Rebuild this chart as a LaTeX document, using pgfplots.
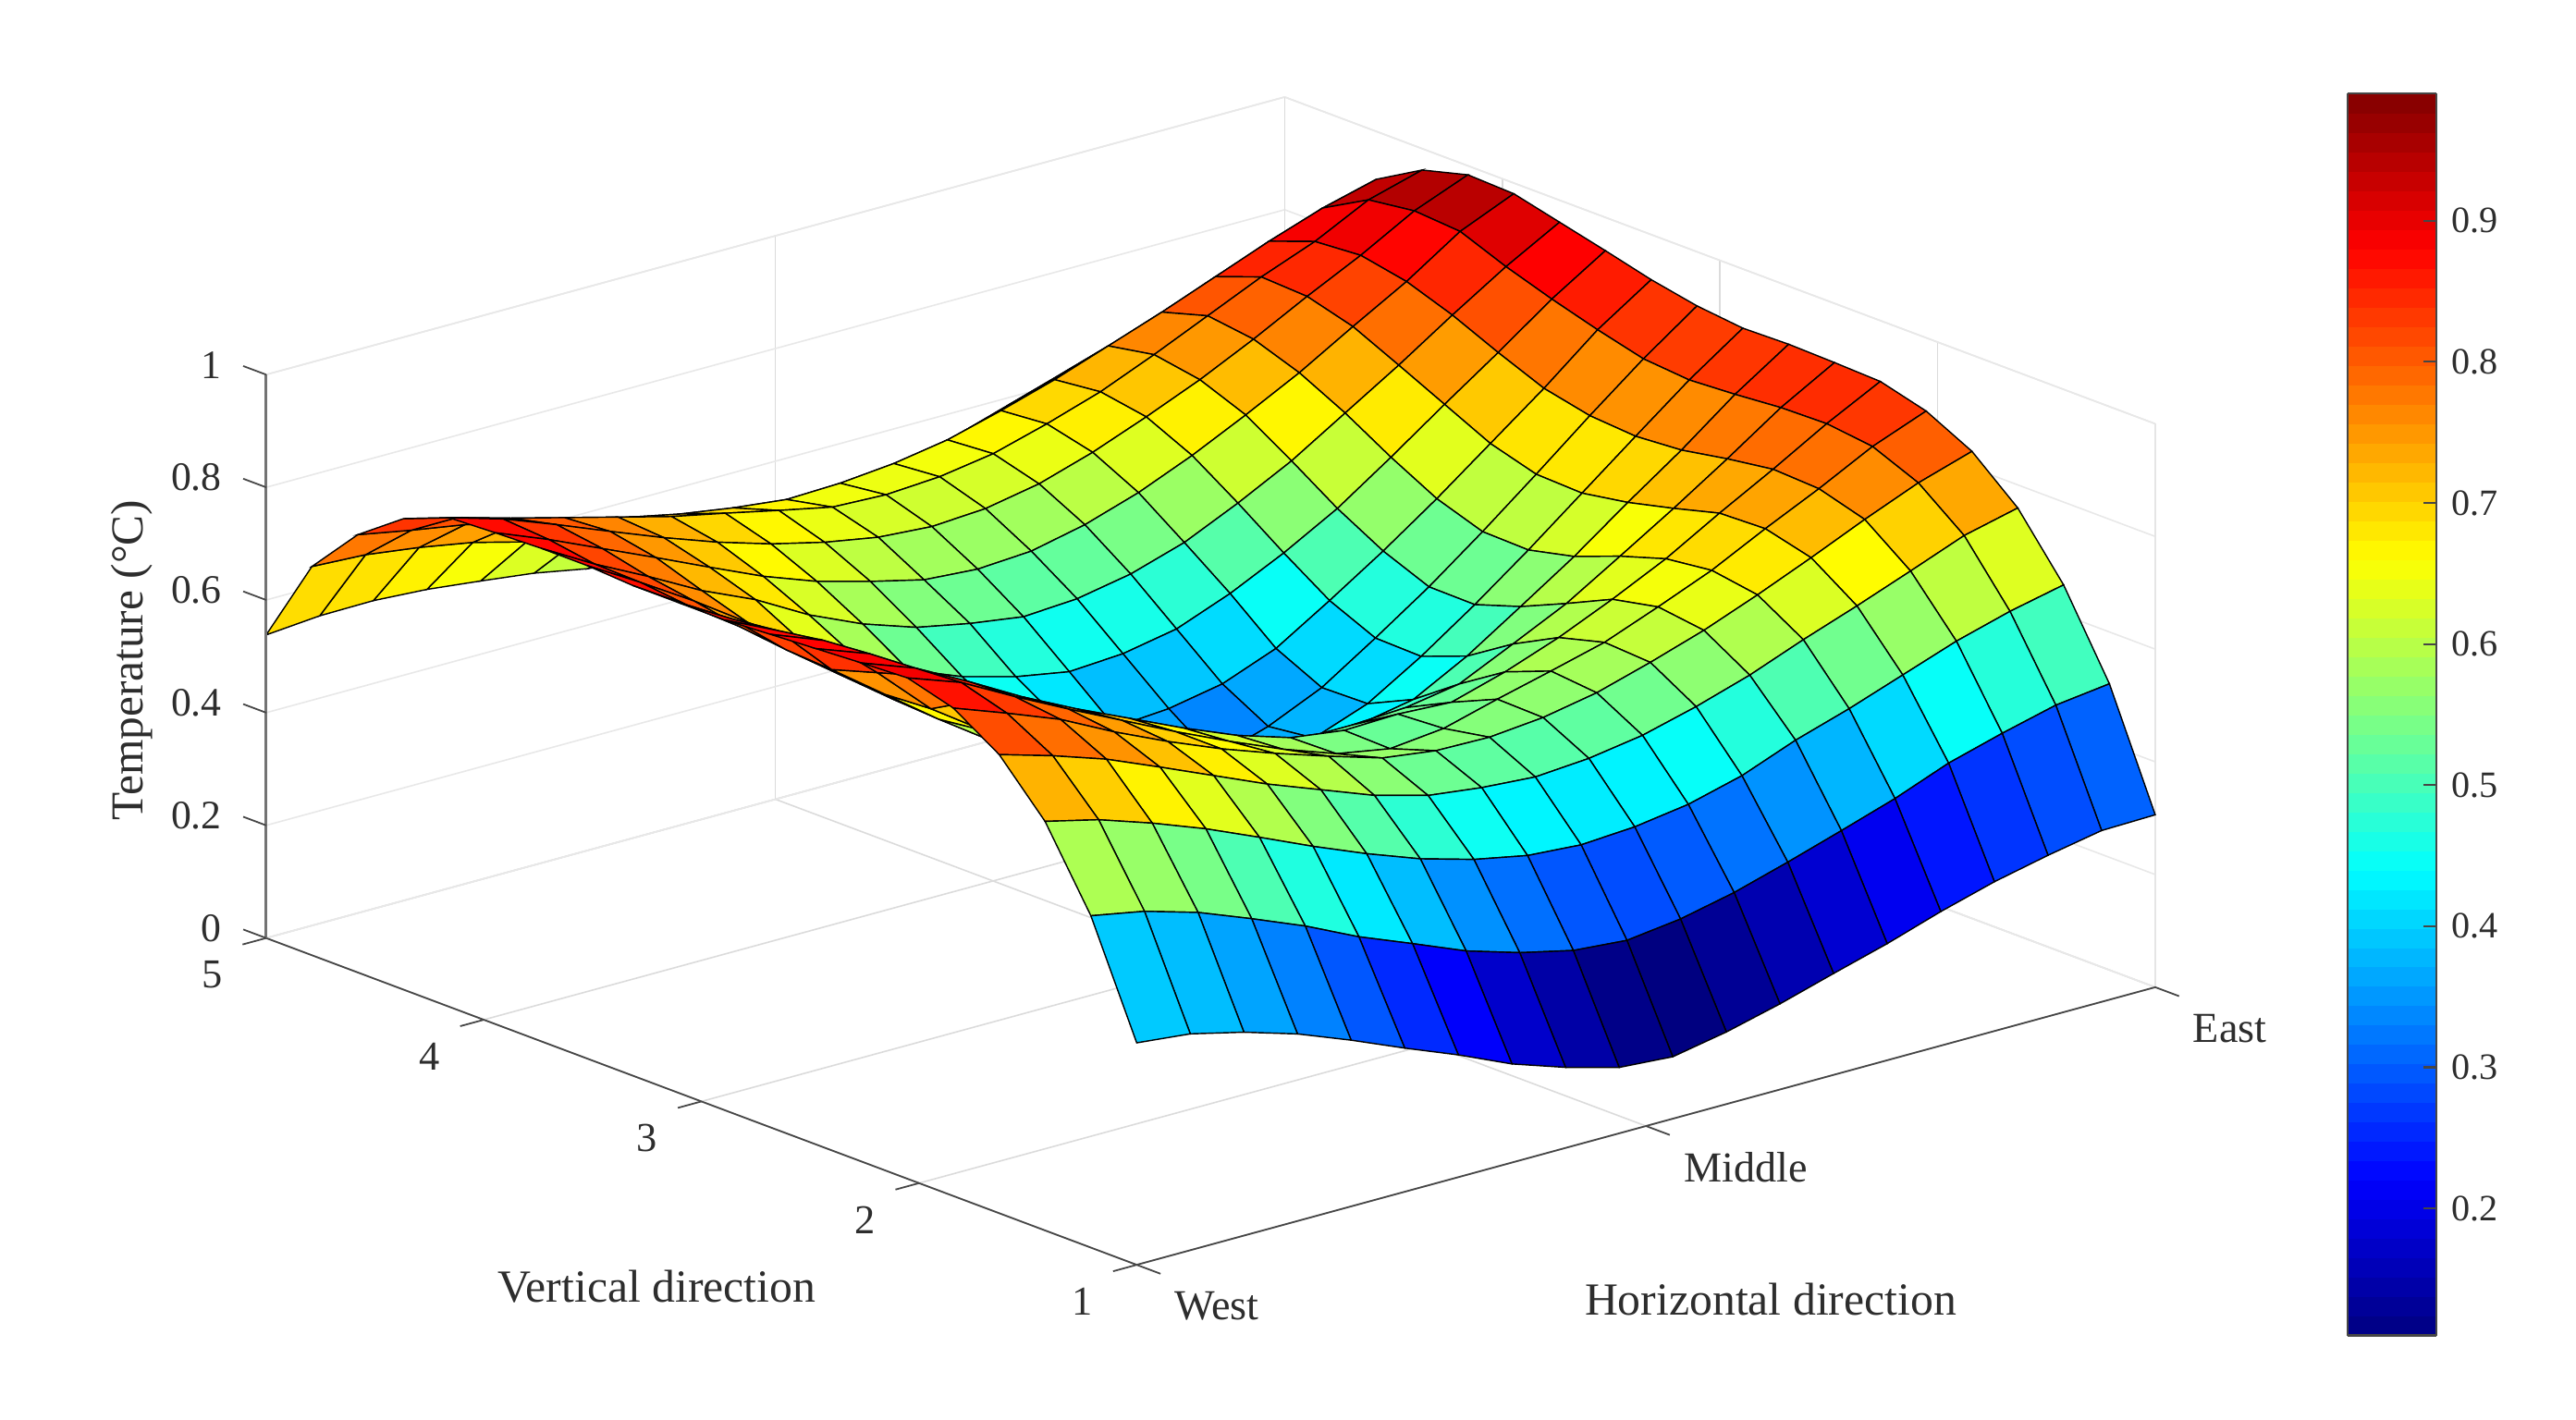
\documentclass[border=0pt]{standalone}
\usepackage{fontspec}
\setmainfont{Liberation Serif}
\usepackage{pgfplots}
\pgfplotsset{compat=1.18}
\definecolor{axgray}{RGB}{70,70,70}
\definecolor{txt}{RGB}{45,45,45}
\pgfplotsset{colormap={matjet}{rgb255=(0,0,128) rgb255=(0,0,255) rgb255=(0,128,255) rgb255=(0,255,255) rgb255=(128,255,128) rgb255=(255,255,0) rgb255=(255,128,0) rgb255=(255,0,0) rgb255=(128,0,0)}}
\begin{document}
\begin{tikzpicture}
\useasboundingbox (-81pt,-47pt) rectangle ++(784pt,432pt);
\begin{axis}[
  x={(16.315pt,4.4475pt)}, y={(-13.945pt,5.235pt)}, z={(0pt,171.5pt)},
  xmin=1, xmax=20, ymin=1, ymax=20, zmin=0, zmax=1,
  clip=false,
  xtick={1,10.5,20}, xticklabels={West,Middle,East},
  ytick={1,5.75,10.5,15.25,20}, yticklabels={1,2,3,4,5},
  ztick={0,0.2,0.4,0.6,0.8,1},
  /pgf/number format/assume math mode=true,
  major tick length=0pt,
  xtick pos=left, ytick pos=left, ztick pos=left,
  xticklabel style={anchor=west,xshift=8pt,yshift=-12.5pt,font=\fontsize{13}{15}\selectfont,text=txt},
  yticklabel style={anchor=center,xshift=-16.5pt,yshift=-11.2pt,font=\fontsize{12.5}{15}\selectfont,text=txt},
  zticklabel style={anchor=east,xshift=-10pt,yshift=3pt,font=\fontsize{12.3}{15}\selectfont,text=txt},
  grid=major, x grid style={black!14,line width=.45pt}, y grid style={black!14,line width=.45pt},
  z grid style={black!9,line width=.45pt},
  axis line style={black!10,line width=.45pt},
  xlabel={Horizontal direction}, ylabel={Vertical direction}, zlabel={Temperature (°C)},
  xlabel style={at={(axis cs:6.86,-5.98,0)},anchor=center,font=\fontsize{14}{16}\selectfont,text=txt},
  ylabel style={at={(axis cs:-4.8,4.69,0)},anchor=center,font=\fontsize{14}{16}\selectfont,text=txt},
  zlabel style={at={(axis cs:-1.51,20,0.558)},anchor=center,rotate=0,font=\fontsize{13.9}{16}\selectfont,text=txt},
  colormap name=matjet, point meta min=0.11, point meta max=0.99,
  colorbar sampled,
  colorbar style={samples=65, width=27pt, height=378pt,
    at={(parent axis.south east)}, anchor=south west, xshift=50pt, yshift=-21.5pt,
    ytick={0.2,0.3,0.4,0.5,0.6,0.7,0.8,0.9},
    ytick pos=right, tick align=inside, major tick length=4pt,
    ticklabel pos=right,
    /pgf/number format/assume math mode=true,
    yticklabel style={xshift=1pt},
    tick label style={font=\fontsize{11.3}{13}\selectfont,text=txt},
    tick style={axgray,line width=.6pt},
    axis line style={axgray,line width=.6pt},
    grid=none,
  },
]
\addplot3[surf, shader=flat corner, draw=black, line width=.4pt, z buffer=sort] coordinates {
(1,1,.394) (2,1,.384) (3,1,.361) (4,1,.332) (5,1,.295) (6,1,.255) (7,1,.217) (8,1,.175) (9,1,.143) (10,1,.117) (11,1,.110) (12,1,.128) (13,1,.152) (14,1,.180) (15,1,.207) (16,1,.238) (17,1,.265) (18,1,.286) (19,1,.304) (20,1,.306)

(1,2,.589) (2,2,.571) (3,2,.543) (4,2,.506) (5,2,.467) (6,2,.422) (7,2,.384) (8,2,.345) (9,2,.316) (10,2,.294) (11,2,.286) (12,2,.298) (13,2,.319) (14,2,.347) (15,2,.377) (16,2,.408) (17,2,.445) (18,2,.472) (19,2,.496) (20,2,.508)

(1,3,.726) (2,3,.703) (3,3,.671) (4,3,.635) (5,3,.594) (6,3,.552) (7,3,.513) (8,3,.478) (9,3,.451) (10,3,.432) (11,3,.425) (12,3,.431) (13,3,.445) (14,3,.470) (15,3,.507) (16,3,.537) (17,3,.571) (18,3,.605) (19,3,.632) (20,3,.653)

(1,4,.814) (2,4,.786) (3,4,.754) (4,4,.714) (5,4,.673) (6,4,.632) (7,4,.596) (8,4,.560) (9,4,.534) (10,4,.522) (11,4,.515) (12,4,.522) (13,4,.537) (14,4,.562) (15,4,.592) (16,4,.629) (17,4,.663) (18,4,.699) (19,4,.736) (20,4,.759)

(1,5,.866) (2,5,.831) (3,5,.794) (4,5,.746) (5,5,.703) (6,5,.664) (7,5,.630) (8,5,.599) (9,5,.570) (10,5,.557) (11,5,.555) (12,5,.564) (13,5,.582) (14,5,.610) (15,5,.641) (16,5,.678) (17,5,.718) (18,5,.760) (19,5,.799) (20,5,.829)

(1,6,.889) (2,6,.855) (3,6,.804) (4,6,.756) (5,6,.710) (6,6,.664) (7,6,.621) (8,6,.581) (9,6,.547) (10,6,.530) (11,6,.540) (12,6,.566) (13,6,.590) (14,6,.615) (15,6,.652) (16,6,.691) (17,6,.739) (18,6,.784) (19,6,.833) (20,6,.870)

(1,7,.885) (2,7,.850) (3,7,.800) (4,7,.747) (5,7,.700) (6,7,.657) (7,7,.614) (8,7,.575) (9,7,.545) (10,7,.532) (11,7,.535) (12,7,.530) (13,7,.558) (14,7,.593) (15,7,.635) (16,7,.681) (17,7,.736) (18,7,.788) (19,7,.843) (20,7,.892)

(1,8,.880) (2,8,.845) (3,8,.780) (4,8,.710) (5,8,.650) (6,8,.600) (7,8,.550) (8,8,.515) (9,8,.495) (10,8,.485) (11,8,.485) (12,8,.490) (13,8,.506) (14,8,.551) (15,8,.597) (16,8,.655) (17,8,.714) (18,8,.776) (19,8,.841) (20,8,.895)

(1,9,.875) (2,9,.838) (3,9,.755) (4,9,.665) (5,9,.600) (6,9,.540) (7,9,.500) (8,9,.470) (9,9,.445) (10,9,.430) (11,9,.425) (12,9,.430) (13,9,.448) (14,9,.499) (15,9,.561) (16,9,.624) (17,9,.694) (18,9,.761) (19,9,.834) (20,9,.897)

(1,10,.870) (2,10,.825) (3,10,.730) (4,10,.660) (5,10,.590) (6,10,.525) (7,10,.470) (8,10,.430) (9,10,.405) (10,10,.385) (11,10,.370) (12,10,.375) (13,10,.410) (14,10,.468) (15,10,.534) (16,10,.605) (17,10,.680) (18,10,.755) (19,10,.829) (20,10,.895)

(1,11,.870) (2,11,.815) (3,11,.735) (4,11,.665) (5,11,.595) (6,11,.530) (7,11,.475) (8,11,.425) (9,11,.390) (10,11,.360) (11,11,.335) (12,11,.365) (13,11,.408) (14,11,.470) (15,11,.535) (16,11,.607) (17,11,.683) (18,11,.761) (19,11,.836) (20,11,.904)

(1,12,.870) (2,12,.810) (3,12,.745) (4,12,.675) (5,12,.605) (6,12,.545) (7,12,.490) (8,12,.450) (9,12,.420) (10,12,.385) (11,12,.392) (12,12,.410) (13,12,.447) (14,12,.506) (15,12,.568) (16,12,.635) (17,12,.707) (18,12,.779) (19,12,.857) (20,12,.920)

(1,13,.875) (2,13,.819) (3,13,.760) (4,13,.696) (5,13,.637) (6,13,.584) (7,13,.534) (8,13,.496) (9,13,.470) (10,13,.453) (11,13,.459) (12,13,.477) (13,13,.514) (14,13,.560) (15,13,.613) (16,13,.678) (17,13,.746) (18,13,.812) (19,13,.881) (20,13,.941)

(1,14,.875) (2,14,.821) (3,14,.773) (4,14,.722) (5,14,.680) (6,14,.627) (7,14,.585) (8,14,.553) (9,14,.534) (10,14,.520) (11,14,.526) (12,14,.544) (13,14,.574) (14,14,.618) (15,14,.667) (16,14,.726) (17,14,.785) (18,14,.848) (19,14,.908) (20,14,.961)

(1,15,.872) (2,15,.834) (3,15,.792) (4,15,.750) (5,15,.707) (6,15,.665) (7,15,.630) (8,15,.604) (9,15,.581) (10,15,.574) (11,15,.580) (12,15,.601) (13,15,.632) (14,15,.672) (15,15,.718) (16,15,.767) (17,15,.823) (18,15,.877) (19,15,.940) (20,15,.981)

(1,16,.868) (2,16,.840) (3,16,.804) (4,16,.766) (5,16,.729) (6,16,.695) (7,16,.666) (8,16,.643) (9,16,.626) (10,16,.619) (11,16,.625) (12,16,.643) (13,16,.673) (14,16,.710) (15,16,.750) (16,16,.796) (17,16,.846) (18,16,.893) (19,16,.946) (20,16,.984)

(1,17,.836) (2,17,.812) (3,17,.785) (4,17,.760) (5,17,.735) (6,17,.710) (7,17,.690) (8,17,.669) (9,17,.649) (10,17,.645) (11,17,.651) (12,17,.666) (13,17,.693) (14,17,.724) (15,17,.764) (16,17,.807) (17,17,.850) (18,17,.887) (19,17,.935) (20,17,.962)

(1,18,.777) (2,18,.759) (3,18,.743) (4,18,.720) (5,18,.700) (6,18,.678) (7,18,.658) (8,18,.643) (9,18,.632) (10,18,.635) (11,18,.644) (12,18,.660) (13,18,.686) (14,18,.715) (15,18,.749) (16,18,.783) (17,18,.820) (18,18,.857) (19,18,.890) (20,18,.915)

(1,19,.690) (2,19,.685) (3,19,.672) (4,19,.655) (5,19,.630) (6,19,.610) (7,19,.590) (8,19,.575) (9,19,.565) (10,19,.565) (11,19,.575) (12,19,.590) (13,19,.610) (14,19,.640) (15,19,.670) (16,19,.700) (17,19,.735) (18,19,.770) (19,19,.800) (20,19,.830)

(1,20,.538) (2,20,.546) (3,20,.547) (4,20,.541) (5,20,.530) (6,20,.518) (7,20,.500) (8,20,.490) (9,20,.485) (10,20,.485) (11,20,.490) (12,20,.500) (13,20,.520) (14,20,.545) (15,20,.575) (16,20,.610) (17,20,.640) (18,20,.670) (19,20,.700) (20,20,.730)
};
\draw[axgray,line width=.5pt] (axis cs:1,1,0) -- (axis cs:20,1,0);
\draw[axgray,line width=.5pt] (axis cs:1,1,0) -- (axis cs:1,20,0);
\draw[black!55,line width=.9pt] (axis cs:1,20,0) -- (axis cs:1,20,1);
% ticks lie along the neighbouring axis, as in the matlab box
\pgfplotsinvokeforeach{1,10.5,20}{\draw[axgray,line width=.5pt] (axis cs:#1,1,0) -- (axis cs:#1,0.48,0);}
\pgfplotsinvokeforeach{1,5.75,10.5,15.25,20}{\draw[axgray,line width=.5pt] (axis cs:1,#1,0) -- (axis cs:0.56,#1,0);}
\pgfplotsinvokeforeach{0,0.2,0.4,0.6,0.8,1}{\draw[axgray,line width=.5pt] (axis cs:1,20,#1) -- (axis cs:1,20.5,#1);}
\end{axis}
\end{tikzpicture}
\end{document}
